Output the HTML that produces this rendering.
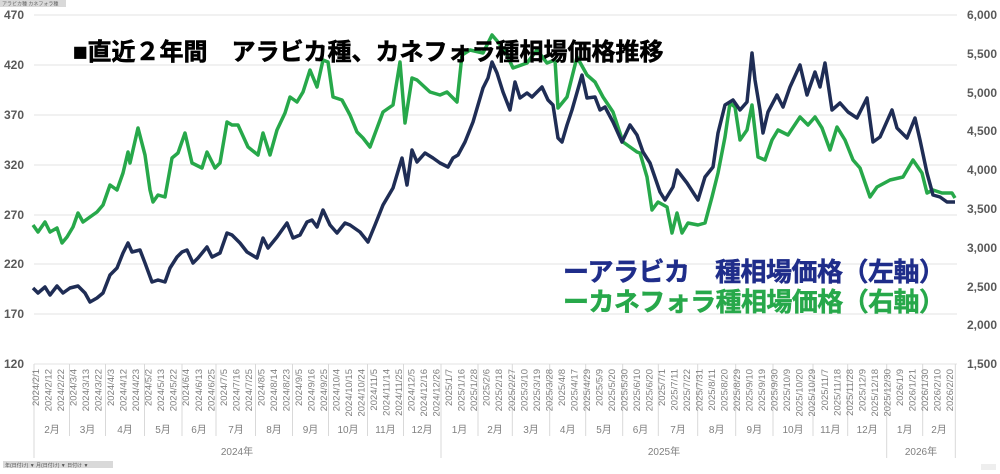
<!DOCTYPE html>
<html><head><meta charset="utf-8"><style>
body{margin:0;background:#fff;}
svg{display:block;font-family:"Liberation Sans","Noto Sans CJK JP",sans-serif;}
</style></head><body>
<svg width="1000" height="474" viewBox="0 0 1000 474">
<rect x="0" y="0" width="1000" height="474" fill="#fff"/>
<rect x="0" y="0" width="66" height="7" fill="#d9d9d9"/>
<text x="2" y="5.5" font-size="5" fill="#666">アラビカ種 カネフォラ種</text>
<g stroke="#e3e3e3" stroke-width="1">
<line x1="34" y1="15" x2="957" y2="15"/><line x1="34" y1="65" x2="957" y2="65"/>
<line x1="34" y1="115" x2="957" y2="115"/><line x1="34" y1="165" x2="957" y2="165"/>
<line x1="34" y1="215" x2="957" y2="215"/><line x1="34" y1="264" x2="957" y2="264"/>
<line x1="34" y1="314" x2="957" y2="314"/><line x1="34" y1="364" x2="957" y2="364"/>
</g>
<g font-size="12" font-weight="bold" fill="#595959">
<text x="4" y="19">470</text><text x="4" y="69">420</text><text x="4" y="119">370</text><text x="4" y="169">320</text>
<text x="4" y="219">270</text><text x="4" y="268">220</text><text x="4" y="318">170</text><text x="4" y="368">120</text>
</g>
<g font-size="12" font-weight="bold" fill="#595959" text-anchor="end">
<text x="997" y="19">6,000</text><text x="997" y="58">5,500</text><text x="997" y="97">5,000</text><text x="997" y="135">4,500</text>
<text x="997" y="174">4,000</text><text x="997" y="213">3,500</text><text x="997" y="252">3,000</text><text x="997" y="291">2,500</text>
<text x="997" y="329">2,000</text><text x="997" y="368">1,500</text>
</g>
<g stroke="#d9d9d9" stroke-width="1">
<line x1="34" y1="364" x2="34" y2="458"/>
<line x1="69.5" y1="364" x2="69.5" y2="436"/><line x1="105.5" y1="364" x2="105.5" y2="436"/><line x1="144.5" y1="364" x2="144.5" y2="436"/>
<line x1="182" y1="364" x2="182" y2="436"/><line x1="216" y1="364" x2="216" y2="436"/><line x1="255.5" y1="364" x2="255.5" y2="436"/>
<line x1="292.5" y1="364" x2="292.5" y2="436"/><line x1="328.5" y1="364" x2="328.5" y2="436"/><line x1="367.5" y1="364" x2="367.5" y2="436"/>
<line x1="403.5" y1="364" x2="403.5" y2="436"/><line x1="441" y1="364" x2="441" y2="458"/><line x1="478" y1="364" x2="478" y2="436"/>
<line x1="512.3" y1="364" x2="512.3" y2="436"/><line x1="549.7" y1="364" x2="549.7" y2="436"/><line x1="585.7" y1="364" x2="585.7" y2="436"/>
<line x1="622.7" y1="364" x2="622.7" y2="436"/><line x1="658.3" y1="364" x2="658.3" y2="436"/><line x1="697.7" y1="364" x2="697.7" y2="436"/>
<line x1="735.7" y1="364" x2="735.7" y2="436"/><line x1="773" y1="364" x2="773" y2="436"/><line x1="813" y1="364" x2="813" y2="436"/>
<line x1="847.7" y1="364" x2="847.7" y2="436"/><line x1="886.7" y1="364" x2="886.7" y2="458"/><line x1="922.7" y1="364" x2="922.7" y2="436"/>
<line x1="955.3" y1="364" x2="955.3" y2="458"/>
</g>
<g font-size="9.5" fill="#7f7f7f" text-anchor="end">
<text transform="translate(39,369) rotate(-90)">2024/2/1</text>
<text transform="translate(51.5,369) rotate(-90)">2024/2/12</text>
<text transform="translate(64,369) rotate(-90)">2024/2/22</text>
<text transform="translate(76.6,369) rotate(-90)">2024/3/4</text>
<text transform="translate(89.1,369) rotate(-90)">2024/3/13</text>
<text transform="translate(101.6,369) rotate(-90)">2024/3/22</text>
<text transform="translate(114.1,369) rotate(-90)">2024/4/3</text>
<text transform="translate(126.6,369) rotate(-90)">2024/4/12</text>
<text transform="translate(139.2,369) rotate(-90)">2024/4/23</text>
<text transform="translate(151.7,369) rotate(-90)">2024/5/2</text>
<text transform="translate(164.2,369) rotate(-90)">2024/5/13</text>
<text transform="translate(176.7,369) rotate(-90)">2024/5/22</text>
<text transform="translate(189.2,369) rotate(-90)">2024/6/4</text>
<text transform="translate(201.8,369) rotate(-90)">2024/6/13</text>
<text transform="translate(214.3,369) rotate(-90)">2024/6/25</text>
<text transform="translate(226.8,369) rotate(-90)">2024/7/5</text>
<text transform="translate(239.3,369) rotate(-90)">2024/7/16</text>
<text transform="translate(251.8,369) rotate(-90)">2024/7/25</text>
<text transform="translate(264.4,369) rotate(-90)">2024/8/5</text>
<text transform="translate(276.9,369) rotate(-90)">2024/8/14</text>
<text transform="translate(289.4,369) rotate(-90)">2024/8/23</text>
<text transform="translate(301.9,369) rotate(-90)">2024/9/5</text>
<text transform="translate(314.4,369) rotate(-90)">2024/9/16</text>
<text transform="translate(327,369) rotate(-90)">2024/9/25</text>
<text transform="translate(339.5,369) rotate(-90)">2024/10/4</text>
<text transform="translate(352,369) rotate(-90)">2024/10/15</text>
<text transform="translate(364.5,369) rotate(-90)">2024/10/24</text>
<text transform="translate(377,369) rotate(-90)">2024/11/5</text>
<text transform="translate(389.6,369) rotate(-90)">2024/11/14</text>
<text transform="translate(402.1,369) rotate(-90)">2024/11/25</text>
<text transform="translate(414.6,369) rotate(-90)">2024/12/5</text>
<text transform="translate(427.1,369) rotate(-90)">2024/12/16</text>
<text transform="translate(439.6,369) rotate(-90)">2024/12/26</text>
<text transform="translate(452.2,369) rotate(-90)">2025/1/7</text>
<text transform="translate(464.7,369) rotate(-90)">2025/1/16</text>
<text transform="translate(477.2,369) rotate(-90)">2025/1/28</text>
<text transform="translate(489.7,369) rotate(-90)">2025/2/6</text>
<text transform="translate(502.2,369) rotate(-90)">2025/2/18</text>
<text transform="translate(514.8,369) rotate(-90)">2025/2/27</text>
<text transform="translate(527.3,369) rotate(-90)">2025/3/10</text>
<text transform="translate(539.8,369) rotate(-90)">2025/3/19</text>
<text transform="translate(552.3,369) rotate(-90)">2025/3/28</text>
<text transform="translate(564.8,369) rotate(-90)">2025/4/8</text>
<text transform="translate(577.4,369) rotate(-90)">2025/4/17</text>
<text transform="translate(589.9,369) rotate(-90)">2025/4/29</text>
<text transform="translate(602.4,369) rotate(-90)">2025/5/9</text>
<text transform="translate(614.9,369) rotate(-90)">2025/5/20</text>
<text transform="translate(627.4,369) rotate(-90)">2025/5/30</text>
<text transform="translate(640,369) rotate(-90)">2025/6/10</text>
<text transform="translate(652.5,369) rotate(-90)">2025/6/20</text>
<text transform="translate(665,369) rotate(-90)">2025/7/1</text>
<text transform="translate(677.5,369) rotate(-90)">2025/7/11</text>
<text transform="translate(690,369) rotate(-90)">2025/7/22</text>
<text transform="translate(702.6,369) rotate(-90)">2025/7/31</text>
<text transform="translate(715.1,369) rotate(-90)">2025/8/11</text>
<text transform="translate(727.6,369) rotate(-90)">2025/8/20</text>
<text transform="translate(740.1,369) rotate(-90)">2025/8/29</text>
<text transform="translate(752.6,369) rotate(-90)">2025/9/10</text>
<text transform="translate(765.2,369) rotate(-90)">2025/9/19</text>
<text transform="translate(777.7,369) rotate(-90)">2025/9/30</text>
<text transform="translate(790.2,369) rotate(-90)">2025/10/9</text>
<text transform="translate(802.7,369) rotate(-90)">2025/10/20</text>
<text transform="translate(815.2,369) rotate(-90)">2025/10/29</text>
<text transform="translate(827.8,369) rotate(-90)">2025/11/7</text>
<text transform="translate(840.3,369) rotate(-90)">2025/11/18</text>
<text transform="translate(852.8,369) rotate(-90)">2025/11/28</text>
<text transform="translate(865.3,369) rotate(-90)">2025/12/9</text>
<text transform="translate(877.8,369) rotate(-90)">2025/12/18</text>
<text transform="translate(890.4,369) rotate(-90)">2025/12/30</text>
<text transform="translate(902.9,369) rotate(-90)">2026/1/9</text>
<text transform="translate(915.4,369) rotate(-90)">2026/1/21</text>
<text transform="translate(927.9,369) rotate(-90)">2026/1/30</text>
<text transform="translate(940.4,369) rotate(-90)">2026/2/10</text>
<text transform="translate(953,369) rotate(-90)">2026/2/20</text>
</g>
<g font-size="10" fill="#7f7f7f" text-anchor="middle">
<text x="52" y="433">2月</text><text x="87.5" y="433">3月</text><text x="125" y="433">4月</text><text x="163" y="433">5月</text>
<text x="199" y="433">6月</text><text x="236" y="433">7月</text><text x="274" y="433">8月</text><text x="310.5" y="433">9月</text>
<text x="348" y="433">10月</text><text x="385.5" y="433">11月</text><text x="422" y="433">12月</text><text x="459.5" y="433">1月</text>
<text x="495" y="433">2月</text><text x="531" y="433">3月</text><text x="567.7" y="433">4月</text><text x="604" y="433">5月</text>
<text x="640.5" y="433">6月</text><text x="678" y="433">7月</text><text x="716.7" y="433">8月</text><text x="754.3" y="433">9月</text>
<text x="793" y="433">10月</text><text x="830.3" y="433">11月</text><text x="867.2" y="433">12月</text><text x="904.7" y="433">1月</text>
<text x="939" y="433">2月</text>
<text x="237" y="455">2024年</text><text x="664" y="455">2025年</text><text x="921" y="455">2026年</text>
</g>
<rect x="3" y="461" width="110" height="7" fill="#d9d9d9"/>
<text x="5" y="467" font-size="5" fill="#555">年(日付け) ▼ 月(日付け) ▼ 日付け ▼</text>
<rect x="981" y="464" width="15" height="6" fill="#eee"/>
<polyline fill="none" stroke="#27a84a" stroke-width="3.5" stroke-linejoin="round" points="33,225 38,232 45,222 50,232 57,228 62,243 67,237 73,227 78,213 83,222 90,217 97,212 103,205 110,185 117,190 123,173 128,152 130,163 138,128 145,155 150,190 153,202 158,195 165,197 172,158 178,153 185,133 192,163 202,168 207,152 215,168 220,163 227,122 232,125 238,125 248,147 258,155 263,133 270,155 277,130 285,113 290,97 297,102 303,92 310,70 317,87 323,60 328,62 333,97 342,100 350,115 357,132 363,138 370,147 383,112 393,105 400,62 405,123 412,78 417,80 430,92 440,95 447,92 457,102 462,55 470,50 483,53 492,35 498,42 507,55 513,68 527,63 537,50 547,63 555,60 558,108 567,97 577,57 587,75 595,82 603,97 613,112 623,142 637,152 640,153 647,177 652,210 658,202 667,207 672,233 677,213 682,233 688,223 698,225 705,223 712,197 718,173 725,137 730,103 735,107 740,140 747,130 752,105 758,157 765,160 772,140 778,130 788,135 800,117 808,125 815,117 822,128 830,150 837,127 845,140 853,160 860,168 870,197 877,187 890,180 903,177 913,160 922,173 927,193 933,190 942,193 952,193 955,198"/>
<polyline fill="none" stroke="#1f2d55" stroke-width="3.5" stroke-linejoin="round" points="33,288 38,293 45,287 50,295 57,286 63,293 70,288 78,286 85,293 90,302 97,298 103,293 110,275 117,268 123,253 128,243 132,252 140,250 145,263 152,282 158,280 165,282 170,268 177,257 182,252 187,250 193,263 198,258 207,247 212,257 220,253 227,233 232,235 240,243 247,252 257,258 263,238 268,248 277,237 287,223 293,238 300,235 307,222 312,220 317,227 323,210 330,225 337,233 345,223 350,225 360,232 368,242 375,225 383,205 393,188 402,158 407,185 412,150 417,162 425,153 433,158 440,163 448,167 453,158 458,155 465,142 473,122 483,88 488,78 492,62 497,73 503,92 510,110 515,82 520,98 527,93 532,97 542,87 548,100 553,105 558,138 562,142 567,125 572,110 582,75 587,98 595,97 600,110 605,107 613,122 622,142 630,125 637,135 643,152 650,163 660,192 665,200 673,187 677,170 687,183 698,200 705,177 713,167 718,133 725,105 733,100 740,110 747,102 752,53 755,80 760,110 763,133 768,112 777,95 783,107 790,87 800,65 807,95 815,72 820,87 825,63 832,110 840,103 848,112 857,118 867,98 873,142 880,137 892,110 897,128 907,138 915,118 920,140 927,173 933,195 940,197 947,202 955,202"/>
<text x="73" y="60" font-size="24" font-weight="bold" fill="#000" stroke="#000" stroke-width="0.6">■直近２年間　アラビカ種、カネフォラ種相場価格推移</text>
<text x="563" y="281" font-size="26" font-weight="bold" fill="#1f2d8a" stroke="#1f2d8a" stroke-width="0.5" textLength="382">ーアラビカ　種相場価格（左軸）</text>
<text x="563" y="311" font-size="26" font-weight="bold" fill="#27a84a" stroke="#27a84a" stroke-width="0.5" textLength="382">ーカネフォラ種相場価格（右軸）</text>
</svg>
</body></html>
